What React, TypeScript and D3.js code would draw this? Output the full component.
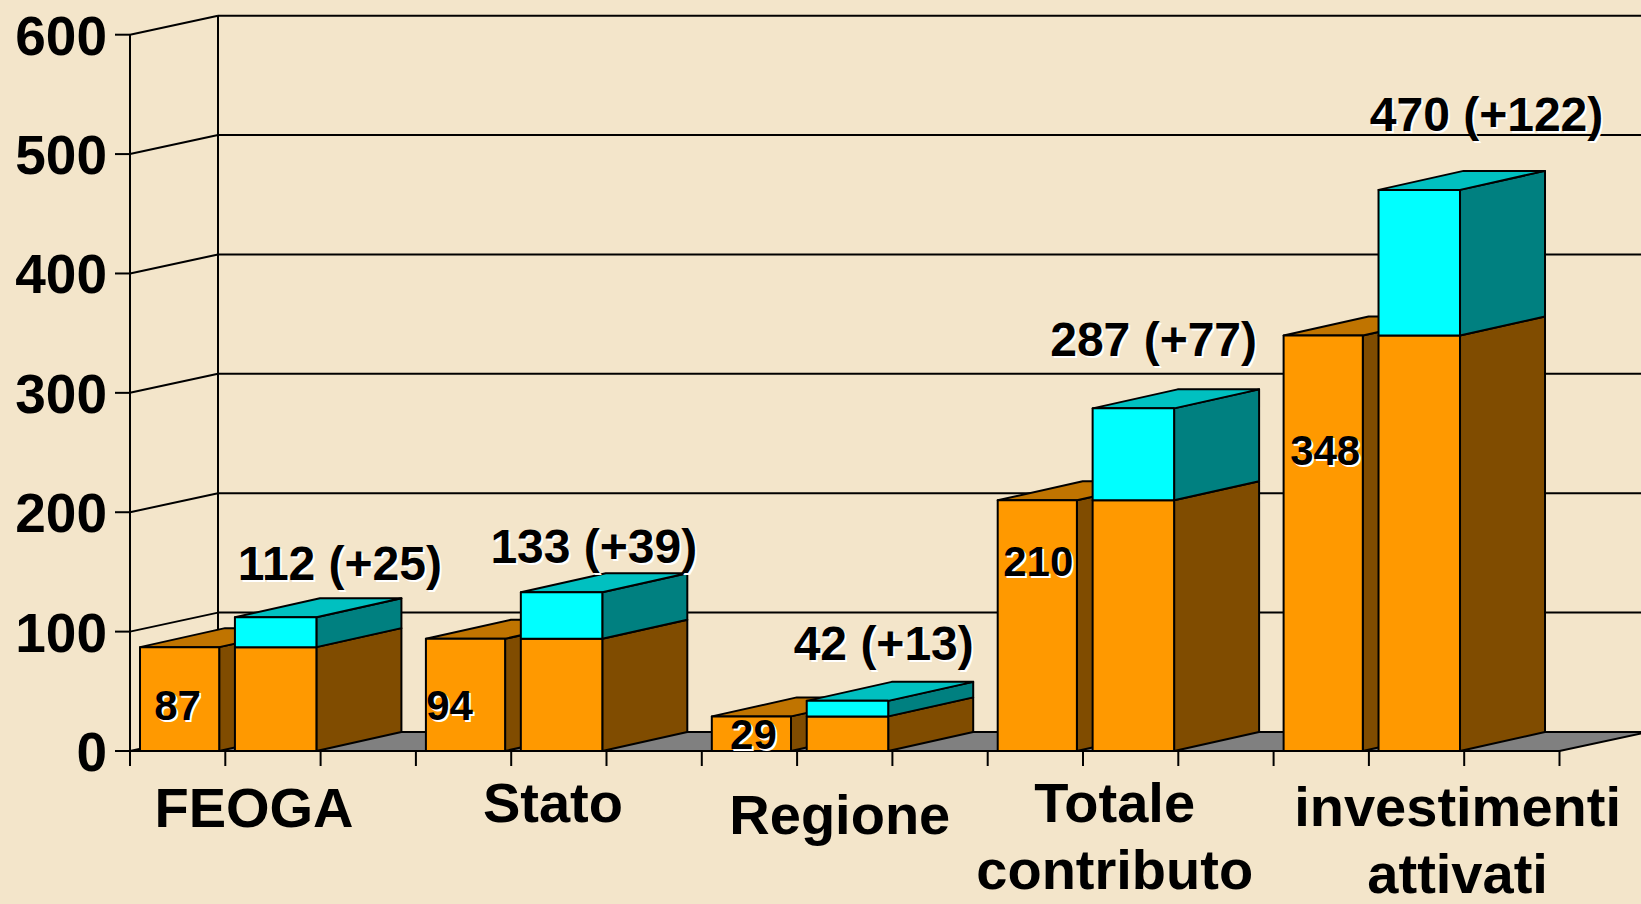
import React from "react";
import * as d3 from "d3";

// ---------- data ----------
const categories = ["FEOGA", "Stato", "Regione", "Totale contributo", "investimenti attivati"];
const categoryLines = [["FEOGA"], ["Stato"], ["Regione"], ["Totale", "contributo"], ["investimenti", "attivati"]];
const baseValues = [87, 94, 29, 210, 348];
const increments = [25, 39, 13, 77, 122];
const totals = [112, 133, 42, 287, 470];
const yTicks = [0, 100, 200, 300, 400, 500, 600];

// ---------- layout ----------
const W = 1641;
const H = 904;
const X0 = 130;
const X1 = 1559.5;
const Y0 = 751;
const Y1 = 34.7;
const WALL_DX = 88;
const WALL_DY = -19;
const BAR_DX = 85;
const BAR_DY = -19;

// label nudges (visual placement of the hand-placed labels)
const topLabelDx = [105, 73, 77, 61, 108];
const topLabelDy = [-18, -10, -22, -33, -40];
const baseLabelDx = [-2, -16, 2, 1, 2];
const baseLabelDy = [73, 81, 33, 76, 129];
const catLabelDx = [124, 137, 138, 127, 184];
const catLabelDy = [76, 71, 83, 71, 75];

const FONT = "'Liberation Sans', Arial, Helvetica, sans-serif";
const BG = "#F3E5CA";
const C = {
  orangeFront: "#FF9900",
  orangeTop: "#C07400",
  orangeSide: "#804C00",
  cyanFront: "#00FFFF",
  cyanTop: "#00C0C0",
  cyanSide: "#008080",
  floor: "#808080",
};

const x = d3.scaleBand<string>().domain(categories).range([X0, X1]).paddingInner(0).paddingOuter(0);
const y = d3.scaleLinear().domain([0, 600]).range([Y0, Y1]);
const bw = x.bandwidth();

function pts(p: [number, number][]) {
  return p.map((q) => q.join(",")).join(" ");
}

function Box({ x0, w, v0, v1, front, top, side, drawTop }: any) {
  const yb = y(v0);
  const yt = y(v1);
  const x1 = x0 + w;
  return (
    <g stroke="#000" strokeWidth={2} strokeLinejoin="round">
      <polygon
        points={pts([[x1, yb], [x1 + BAR_DX, yb + BAR_DY], [x1 + BAR_DX, yt + BAR_DY], [x1, yt]])}
        fill={side}
      />
      {drawTop && (
        <polygon
          points={pts([[x0, yt], [x1, yt], [x1 + BAR_DX, yt + BAR_DY], [x0 + BAR_DX, yt + BAR_DY]])}
          fill={top}
        />
      )}
      <rect x={x0} y={yt} width={w} height={yb - yt} fill={front} />
    </g>
  );
}

function ShadowText({ x: tx, y: ty, size, children }: any) {
  return (
    <g fontFamily={FONT} fontWeight="bold" fontSize={size} textAnchor="middle">
      <text x={tx + 2} y={ty + 2} fill="#fff">{children}</text>
      <text x={tx} y={ty} fill="#000">{children}</text>
    </g>
  );
}

export default function App() {
  const xTicks = d3.range(0, 16).map((k) => X0 + (k * bw) / 3);
  return (
    <div style={{ position: "fixed", left: 0, top: 0 }}>
      <svg width={W} height={H} viewBox={`0 0 ${W} ${H}`} style={{ display: "block" }}>
        <rect x={0} y={0} width={W} height={H} fill={BG} />

        {/* walls & gridlines */}
        <g stroke="#000" strokeWidth={2} fill="none">
          {yTicks.map((t) => (
            <g key={t}>
              <line x1={X0 - 15} x2={X0} y1={y(t)} y2={y(t)} />
              {t > 0 && (
                <>
                  <line x1={X0} y1={y(t)} x2={X0 + WALL_DX} y2={y(t) + WALL_DY} />
                  <line x1={X0 + WALL_DX} y1={y(t) + WALL_DY} x2={X1 + WALL_DX + 20} y2={y(t) + WALL_DY} />
                </>
              )}
            </g>
          ))}
          <line x1={X0} y1={y(600)} x2={X0} y2={Y0 + 15} />
          <line x1={X0 + WALL_DX} y1={y(600) + WALL_DY} x2={X0 + WALL_DX} y2={Y0 + WALL_DY} />
        </g>

        {/* floor */}
        <polygon
          points={pts([[X0, Y0], [X1, Y0], [X1 + WALL_DX, Y0 + WALL_DY], [X0 + WALL_DX, Y0 + WALL_DY]])}
          fill={C.floor}
          stroke="#000"
          strokeWidth={2}
        />

        {/* bars */}
        {categories.map((c, i) => {
          const s = x(c) as number;
          const b1x = s + 0.035 * bw;
          const b1w = 0.277 * bw;
          const b2x = s + 0.367 * bw;
          const b2w = 0.285 * bw;
          return (
            <g key={c}>
              <Box x0={b1x} w={b1w} v0={0} v1={baseValues[i]} front={C.orangeFront} top={C.orangeTop} side={C.orangeSide} drawTop />
              <Box x0={b2x} w={b2w} v0={0} v1={baseValues[i]} front={C.orangeFront} top={C.orangeTop} side={C.orangeSide} drawTop={false} />
              <Box x0={b2x} w={b2w} v0={baseValues[i]} v1={totals[i]} front={C.cyanFront} top={C.cyanTop} side={C.cyanSide} drawTop />
            </g>
          );
        })}

        {/* front axis line and ticks */}
        <g stroke="#000" strokeWidth={2}>
          <line x1={X0 - 15} x2={X1} y1={Y0} y2={Y0} />
          {xTicks.map((tx, k) => (
            <line key={k} x1={tx} x2={tx} y1={Y0} y2={Y0 + 15} />
          ))}
        </g>

        {/* base value labels */}
        {categories.map((c, i) => {
          const s = x(c) as number;
          const cx = s + 0.1735 * bw + baseLabelDx[i];
          return (
            <ShadowText key={c} x={cx} y={y(baseValues[i]) + baseLabelDy[i]} size={42}>
              {String(baseValues[i])}
            </ShadowText>
          );
        })}

        {/* total labels */}
        {categories.map((c, i) => {
          const s = x(c) as number;
          const cx = s + 0.367 * bw + topLabelDx[i];
          return (
            <ShadowText key={c} x={cx} y={y(totals[i]) + BAR_DY + topLabelDy[i]} size={48}>
              {`${totals[i]} (+${increments[i]})`}
            </ShadowText>
          );
        })}

        {/* y tick labels */}
        <g fontFamily={FONT} fontWeight="bold" fontSize={55} textAnchor="end" fill="#000">
          {yTicks.map((t) => (
            <text key={t} x={107} y={y(t) + 20}>{t}</text>
          ))}
        </g>

        {/* category labels */}
        <g fontFamily={FONT} fontWeight="bold" fontSize={56} textAnchor="middle" fill="#000">
          {categories.map((c, i) => {
            const s = x(c) as number;
            return categoryLines[i].map((ln, j) => (
              <text key={c + j} x={s + catLabelDx[i]} y={Y0 + catLabelDy[i] + j * 67}>{ln}</text>
            ));
          })}
        </g>
      </svg>
    </div>
  );
}
